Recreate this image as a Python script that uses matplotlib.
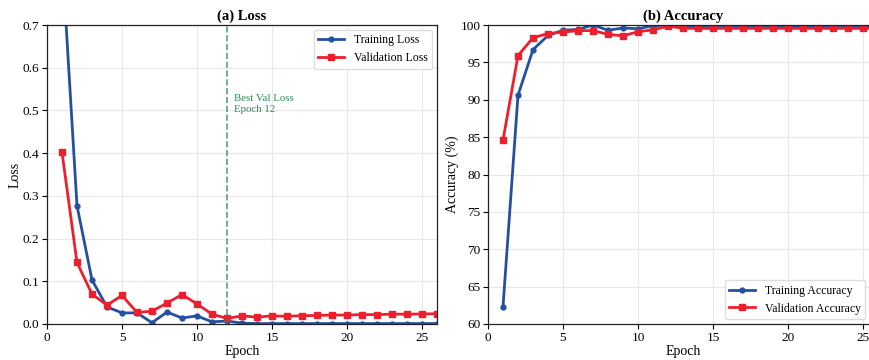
import numpy as np
import matplotlib.pyplot as plt

plt.rcParams['font.family'] = ['Liberation Serif', 'DejaVu Serif']

epochs = list(range(1, 31))

train_loss = [0.86, 0.277, 0.103, 0.040, 0.026, 0.026, 0.003, 0.028, 0.014, 0.019,
              0.005, 0.007, 0.002, 0.001, 0.001, 0.001, 0.001, 0.001, 0.001, 0.001,
              0.001, 0.001, 0.001, 0.001, 0.001, 0.001, 0.001, 0.001, 0.001, 0.001]
val_loss = [0.402, 0.144, 0.070, 0.044, 0.067, 0.027, 0.030, 0.049, 0.069, 0.047,
            0.023, 0.013, 0.019, 0.016, 0.019, 0.018, 0.0195, 0.020, 0.021, 0.021,
            0.022, 0.022, 0.023, 0.023, 0.0235, 0.024, 0.024, 0.024, 0.024, 0.024]

train_acc = [62.3, 90.6, 96.7, 98.6, 99.3, 99.4, 100.0, 99.3, 99.6, 99.5,
             99.9, 100.0, 99.9, 99.9, 99.9, 99.9, 99.9, 99.9, 99.9, 99.9,
             99.9, 99.9, 99.9, 99.9, 99.9, 99.9, 99.9, 99.9, 99.9, 99.9]
val_acc = [84.6, 95.9, 98.3, 98.85, 99.05, 99.25, 99.25, 98.75, 98.55, 99.1,
           99.35, 99.85, 99.55, 99.55, 99.55, 99.55, 99.55, 99.55, 99.55, 99.55,
           99.55, 99.55, 99.55, 99.55, 99.55, 99.55, 99.55, 99.55, 99.55, 99.55]

best_epoch = 12

blue = '#2350a0'
red = '#ee1f2d'
green = '#2e8b57'

fig = plt.figure(figsize=(8.7, 3.6), dpi=100)
ax1 = fig.add_axes([47 / 870, 36 / 360, 390 / 870, 299 / 360])
ax2 = fig.add_axes([488 / 870, 36 / 360, 390 / 870, 299 / 360])

for ax in (ax1, ax2):
    ax.grid(True, color='#e8e8e8', linewidth=0.8)
    ax.set_axisbelow(True)
    ax.tick_params(labelsize=9.5, direction='out', length=3.5, width=0.8, pad=2)
    for s in ax.spines.values():
        s.set_color('#222222')
        s.set_linewidth(0.9)
    ax.set_xlim(0, 26)
    ax.set_xlabel('Epoch', fontsize=10, labelpad=1)

# (a) Loss
ax1.plot(epochs, train_loss, color=blue, lw=2, marker='o', ms=3.5, label='Training Loss')
ax1.plot(epochs, val_loss, color=red, lw=2, marker='s', ms=4, label='Validation Loss')
ax1.axvline(best_epoch, color=green, ls='--', lw=1.2, alpha=0.8)
ax1.text(best_epoch + 0.5, 0.515, 'Best Val Loss\nEpoch 12', color=green, fontsize=7.8,
         va='center', ha='left', linespacing=1.25)
ax1.set_ylim(0, 0.7)
ax1.set_yticks(np.arange(0, 0.71, 0.1))
ax1.set_ylabel('Loss', fontsize=10, labelpad=1)
ax1.set_title('(a) Loss', fontsize=10.5, fontweight='bold', pad=4)
ax1.legend(loc='upper right', fontsize=8.5, framealpha=1, edgecolor='#dddddd',
           fancybox=True, handlelength=2.2, borderaxespad=0.4)

# (b) Accuracy
ax2.plot(epochs, train_acc, color=blue, lw=2, marker='o', ms=3.5, label='Training Accuracy')
ax2.plot(epochs, val_acc, color=red, lw=2, marker='s', ms=4, label='Validation Accuracy')
ax2.axhline(100, color='#555555', lw=1.2)
ax2.set_ylim(60, 100)
ax2.set_ylabel('Accuracy (%)', fontsize=10, labelpad=1)
ax2.set_title('(b) Accuracy', fontsize=10.5, fontweight='bold', pad=4)
ax2.legend(loc='lower right', fontsize=8.5, framealpha=1, edgecolor='#dddddd',
           fancybox=True, handlelength=2.2, borderaxespad=0.4,
           bbox_to_anchor=(0.98, 0.0))

plt.savefig('out.png', dpi=100)
